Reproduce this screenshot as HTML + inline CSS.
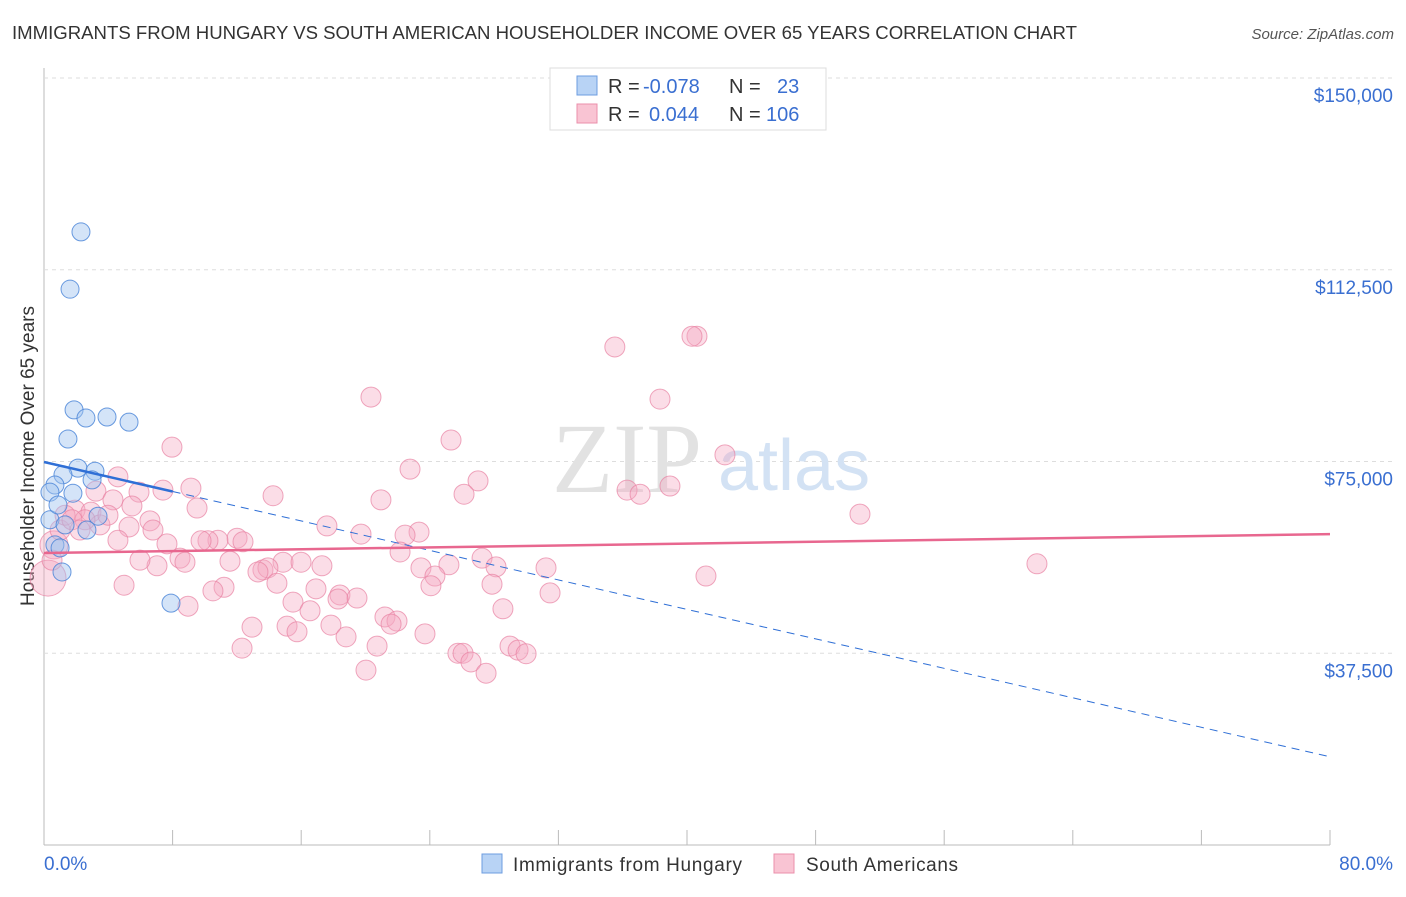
<!DOCTYPE html>
<html><head><meta charset="utf-8"><style>
body{margin:0;background:#fff;font-family:"Liberation Sans",sans-serif;}
svg text{font-family:"Liberation Sans",sans-serif;}
</style></head><body>
<svg id="chart" width="1406" height="892">
<text x="12" y="39" font-size="18" fill="#333" textLength="1065" lengthAdjust="spacingAndGlyphs">IMMIGRANTS FROM HUNGARY VS SOUTH AMERICAN HOUSEHOLDER INCOME OVER 65 YEARS CORRELATION CHART</text>
<text x="1394" y="39" font-size="15" fill="#555" text-anchor="end" font-style="italic">Source: ZipAtlas.com</text>
<text x="34" y="456" font-size="19" fill="#333" text-anchor="middle" transform="rotate(-90 34 456)">Householder Income Over 65 years</text>
<g id="grid"></g>
<text x="552" y="492" font-size="100" fill="#e2e2e2" style="font-family:'Liberation Serif',serif">ZIP</text>
<text x="718" y="490" font-size="72" fill="#d3e2f4">atlas</text>
<g id="marks"></g>
<g>
<rect x="550" y="68" width="276" height="62" fill="#fff" stroke="#ddd"/>
<rect x="577" y="76" width="20" height="19" fill="#b8d3f5" stroke="#6d9de0"/>
<rect x="577" y="104" width="20" height="19" fill="#f9c4d3" stroke="#eb8fab"/>
<text x="608" y="93" font-size="20" fill="#333">R = <tspan fill="#3a6fd1" x="643">-0.078</tspan></text>
<text x="729" y="93" font-size="20" fill="#333">N = <tspan fill="#3a6fd1" x="777">23</tspan></text>
<text x="608" y="121" font-size="20" fill="#333">R = <tspan fill="#3a6fd1" x="649">0.044</tspan></text>
<text x="729" y="121" font-size="20" fill="#333">N = <tspan fill="#3a6fd1" x="766">106</tspan></text>
</g>
<g>
<rect x="482" y="854" width="20" height="19" fill="#b8d3f5" stroke="#6d9de0"/>
<text x="513" y="871" font-size="19" fill="#333" textLength="229">Immigrants from Hungary</text>
<rect x="774" y="854" width="20" height="19" fill="#f9c4d3" stroke="#eb8fab"/>
<text x="806" y="871" font-size="19" fill="#333" textLength="152">South Americans</text>
</g>
</svg>
<script>
const yTickValues=[37500,75000,112500,150000];
const yTickLabels=["$37,500","$75,000","$112,500","$150,000"];
const xTickLabels=["0.0%","80.0%"];
const hungaryX=[2.30,1.62,1.87,2.61,3.92,5.29,1.49,2.11,3.17,1.18,0.68,0.37,1.80,2.99,3.36,2.67,0.68,1.00,1.12,7.90,0.37,0.87,1.31];
const hungaryY=[119900,108700,85100,83500,83700,82700,79400,73700,73100,72400,70400,69000,68800,71400,64300,61600,58700,58100,53400,47300,63600,66500,62600];
const southX=[40.62,40.31,35.51,20.34,38.32,25.32,7.96,42.36,22.77,27.00,9.14,7.40,36.27,38.94,37.08,26.13,14.25,20.96,5.91,3.23,4.60,4.29,5.47,9.52,1.93,2.92,50.76,6.59,17.60,5.29,23.33,19.72,22.46,6.78,7.65,12.01,10.82,10.20,12.38,9.77,22.15,8.46,7.03,8.77,11.57,14.87,15.99,17.29,23.45,25.19,27.25,28.12,31.23,24.32,13.62,13.93,13.31,14.49,4.98,11.20,10.51,27.87,24.07,16.92,31.48,18.41,19.47,18.29,15.49,16.55,8.96,28.55,41.18,61.77,12.94,15.12,21.21,21.96,21.59,17.85,15.74,18.79,23.70,12.32,20.72,25.75,26.07,28.99,29.49,29.99,26.56,20.03,27.50,0.62,0.25,1.00,0.50,3.48,2.55,1.31,3.98,1.74,2.24,4.60,5.97];
const southY=[99500,99500,97400,87600,87200,79200,77800,76300,73500,71200,69800,69400,69400,70200,68600,68600,68300,67500,69000,69200,72000,67500,66300,65900,65500,65100,64700,63400,62400,62200,61200,60800,60600,61600,58900,60000,59600,59500,59300,59500,57300,56100,54600,55300,55500,55300,55300,54600,54200,54800,56100,54400,54200,52600,53800,54200,53400,51200,50800,50400,49700,51000,50700,50100,49300,48900,48300,48100,47500,45800,46700,46200,52600,55000,42600,42800,44600,43800,43200,43000,41700,40700,41300,38500,38900,37500,37500,38900,38100,37400,35800,34200,33600,58700,52200,61600,55700,62600,63600,64500,64500,63600,61600,59600,55700];
const southR=southX.map((x,i)=>i===94?18:(i===93?14:10));
const hungaryTrend=[74900,17400];
const southTrend=[57100,60800];
const NS="http://www.w3.org/2000/svg";
const X=v=>44+v/80*1286;
const Y=v=>845-v/150000*767;
const grid=document.getElementById('grid'),marks=document.getElementById('marks');
function mk(tag,attrs,parent){const e=document.createElementNS(NS,tag);for(const k in attrs)e.setAttribute(k,attrs[k]);parent.appendChild(e);return e;}
let ax=mk('line',{x1:44,y1:68,x2:44,y2:845,stroke:'#bbb'},grid);


let bx=mk('line',{x1:44,y1:845,x2:1330,y2:845,stroke:'#bbb'},grid);


for(let i=1;i<=10;i++){let t=mk('line',{x1:44+i*128.6,y1:830,x2:44+i*128.6,y2:845,stroke:'#bbb'},grid);

}
yTickValues.forEach((v,i)=>{let g=mk('line',{x1:44,y1:Y(v),x2:1394,y2:Y(v),stroke:'#ddd','stroke-dasharray':'4,4'},grid);


let t=mk('text',{x:1393,y:Y(v)+24,'font-size':19,fill:'#3a6fd1','text-anchor':'end'},grid);t.textContent=yTickLabels[i];

});
[[44,'start'],[1393,'end']].forEach((p,i)=>{let t=mk('text',{x:p[0],y:870,'font-size':19,fill:'#3a6fd1','text-anchor':p[1]},grid);t.textContent=xTickLabels[i];

});
southX.forEach((x,i)=>{let c=mk('circle',{cx:X(x),cy:Y(southY[i]),r:southR[i],fill:'rgba(246,170,195,0.4)',stroke:'rgba(232,130,162,0.7)','stroke-width':1},marks);

});
hungaryX.forEach((x,i)=>{let c=mk('circle',{cx:X(x),cy:Y(hungaryY[i]),r:9,fill:'rgba(160,196,240,0.45)',stroke:'rgba(70,130,215,0.8)','stroke-width':1},marks);

});
const hy=x=>hungaryTrend[0]+(hungaryTrend[1]-hungaryTrend[0])*x/79.8;
let l1=mk('line',{x1:X(0),y1:Y(hy(0)),x2:X(8),y2:Y(hy(8)),stroke:'#2f6fd6','stroke-width':2.5},marks);


let l2=mk('line',{x1:X(8),y1:Y(hy(8)),x2:X(79.8),y2:Y(hy(79.8)),stroke:'#2f6fd6','stroke-width':1,'stroke-dasharray':'8,6'},marks);


let l3=mk('line',{x1:X(0),y1:Y(southTrend[0]),x2:X(80),y2:Y(southTrend[1]),stroke:'#e8678f','stroke-width':2.5},marks);


</script>
</body></html>
